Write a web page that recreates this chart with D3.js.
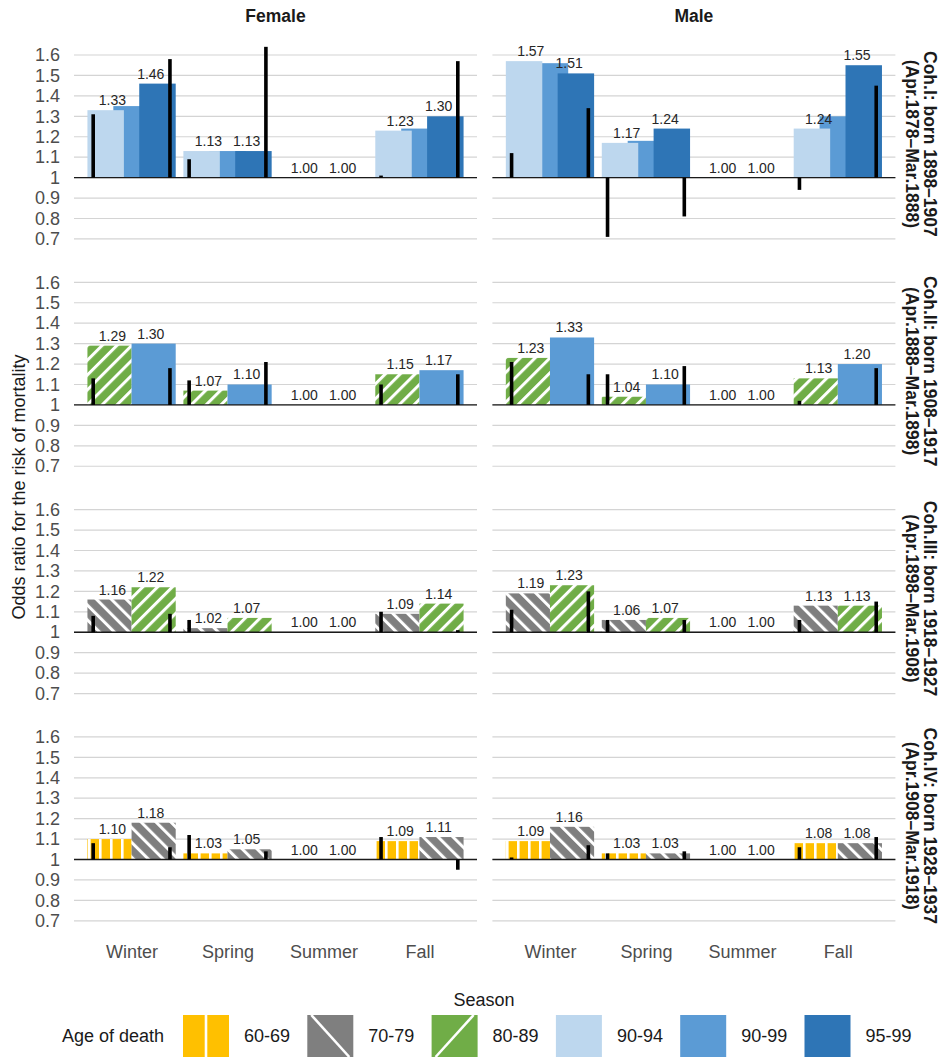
<!DOCTYPE html>
<html>
<head>
<meta charset="utf-8">
<script src="https://cdn.jsdelivr.net/npm/d3@7"></script>
<style>
  body { margin: 0; background: #fff; }
  text { font-family: "Liberation Sans", Arial, sans-serif; }
</style>
</head>
<body>
<div id="chart"></div>
<script>
// seasons, sexes, cohorts
const seasons = ["Winter", "Spring", "Summer", "Fall"];
const sexes = ["Female", "Male"];
const cohortLabels = [
    ["Coh.I: born 1898\u20131907", "(Apr.1878\u2013Mar.1888)"],
    ["Coh.II: born 1908\u20131917", "(Apr.1888\u2013Mar.1898)"],
    ["Coh.III: born 1918\u20131927", "(Apr.1898\u2013Mar.1908)"],
    ["Coh.IV: born 1928\u20131937", "(Apr.1908\u2013Mar.1918)"]
];
const ageGroups = ["60-69", "70-79", "80-89", "90-94", "90-99", "95-99"];
// which age groups appear in each cohort row
const cohortSeries = [
    ["90-94", "90-99", "95-99"],
    ["80-89", "90-99"],
    ["70-79", "80-89"],
    ["60-69", "70-79"]
];
const yTicks = [0.7, 0.8, 0.9, 1, 1.1, 1.2, 1.3, 1.4, 1.5, 1.6];

// odds ratios: one row per age group, values per season
const coh1Female = [[1.33, 1.13, 1.00, 1.23], [1.35, 1.13, 1.00, 1.24], [1.46, 1.13, 1.00, 1.30]];
const coh1Male   = [[1.57, 1.17, 1.00, 1.24], [1.56, 1.18, 1.00, 1.30], [1.51, 1.24, 1.00, 1.55]];
const coh2Female = [[1.29, 1.07, 1.00, 1.15], [1.30, 1.10, 1.00, 1.17]];
const coh2Male   = [[1.23, 1.04, 1.00, 1.13], [1.33, 1.10, 1.00, 1.20]];
const coh3Female = [[1.16, 1.02, 1.00, 1.09], [1.22, 1.07, 1.00, 1.14]];
const coh3Male   = [[1.19, 1.06, 1.00, 1.13], [1.23, 1.07, 1.00, 1.13]];
const coh4Female = [[1.10, 1.03, 1.00, 1.09], [1.18, 1.05, 1.00, 1.11]];
const coh4Male   = [[1.09, 1.03, 1.00, 1.08], [1.16, 1.03, 1.00, 1.08]];

// black interval lines, drawn from 1 to these ends: [left per season], [right per season]
const coh1FemaleErr = [[1.31, 1.09, 1.00, 1.01], [1.58, 1.64, 1.00, 1.57]];
const coh1MaleErr   = [[1.12, 0.71, 1.00, 0.94], [1.34, 0.81, 1.00, 1.45]];
const coh2FemaleErr = [[1.13, 1.12, 1.00, 1.10], [1.18, 1.21, 1.00, 1.15]];
const coh2MaleErr   = [[1.21, 1.15, 1.00, 1.02], [1.15, 1.19, 1.00, 1.18]];
const coh3FemaleErr = [[1.08, 1.06, 1.00, 1.10], [1.09, 1.00, 1.00, 1.01]];
const coh3MaleErr   = [[1.11, 1.06, 1.00, 1.06], [1.20, 1.06, 1.00, 1.15]];
const coh4FemaleErr = [[1.08, 1.12, 1.00, 1.11], [1.06, 1.04, 1.00, 0.95]];
const coh4MaleErr   = [[1.01, 1.03, 1.00, 1.06], [1.07, 1.04, 1.00, 1.11]];

const values = [[coh1Female, coh1Male], [coh2Female, coh2Male], [coh3Female, coh3Male], [coh4Female, coh4Male]];
const errs = [[coh1FemaleErr, coh1MaleErr], [coh2FemaleErr, coh2MaleErr], [coh3FemaleErr, coh3MaleErr], [coh4FemaleErr, coh4MaleErr]];

const width = 948, height = 1058;
const colLeft = [74, 492.4];
const panelW = 403;
const rowTop0 = 40.7, rowStep = 227.3, panelH = 206.4;

const colors = {
    "60-69": "#FFC000", "70-79": "#7F7F7F", "80-89": "#70AD47",
    "90-94": "#BDD7EE", "90-99": "#5B9BD5", "95-99": "#2E75B6"
};
const fills = {
    "60-69": "url(#pat6069)", "70-79": "url(#pat7079)", "80-89": "url(#pat8089)",
    "90-94": colors["90-94"], "90-99": colors["90-99"], "95-99": colors["95-99"]
};

const svg = d3.select("#chart").append("svg")
    .attr("width", width).attr("height", height);

// hatch patterns
const defs = svg.append("defs");
let p = defs.append("pattern").attr("id", "pat6069").attr("patternUnits", "userSpaceOnUse")
    .attr("width", 11).attr("height", 10);
p.append("rect").attr("width", 11).attr("height", 10).attr("fill", colors["60-69"]);
p.append("rect").attr("x", 0).attr("width", 2.6).attr("height", 10).attr("fill", "#fff");

[["pat7079", "70-79", -45], ["pat8089", "80-89", 45]].forEach(([id, key, ang]) => {
    let pt = defs.append("pattern").attr("id", id).attr("patternUnits", "userSpaceOnUse")
        .attr("width", 10.5).attr("height", 10.5)
        .attr("patternTransform", `rotate(${ang})`);
    pt.append("rect").attr("width", 10.5).attr("height", 10.5).attr("fill", colors[key]);
    pt.append("rect").attr("x", 0).attr("width", 3).attr("height", 10.5).attr("fill", "#fff");
});

const fmt = d3.format(".2f");

values.forEach((rowVals, r) => {
    const top = rowTop0 + r * rowStep;
    const y = d3.scaleLinear().domain([0.66, 1.67]).range([top + panelH, top]);
    const series = cohortSeries[r];
    const n = series.length;

    sexes.forEach((sex, c) => {
        const x = d3.scalePoint().domain(seasons)
            .range([colLeft[c], colLeft[c] + panelW]).padding(0.6);
        const s = x.step();
        const bw = n === 3 ? 0.38 * s : 0.46 * s;
        const off = i => n === 3 ? (i - 1) * 0.27 * s : (i - 0.5) * bw;

        const g = svg.append("g");

        // gridlines
        g.selectAll(".grid").data(yTicks).enter().append("line")
            .attr("x1", colLeft[c]).attr("x2", colLeft[c] + panelW)
            .attr("y1", d => y(d)).attr("y2", d => y(d))
            .attr("stroke", "#d4d4d4").attr("stroke-width", 1.2);

        // y axis labels on the left column only
        if (c === 0) {
            const ax = svg.append("g").attr("transform", `translate(${colLeft[c]},0)`)
                .call(d3.axisLeft(y).tickValues(yTicks).tickSize(0).tickPadding(14)
                    .tickFormat(d3.format(".1~f")));
            ax.select(".domain").remove();
            ax.selectAll("text").attr("font-size", 18).attr("fill", "#4d4d4d")
                .attr("font-family", "Liberation Sans, Arial, sans-serif");
        }

        // bars: middle series first, outer ones on top
        const order = d3.range(n).sort((a, b) => ((a === 0 || a === n - 1) ? 1 : 0) - ((b === 0 || b === n - 1) ? 1 : 0));
        order.forEach(i => {
            const key = series[i];
            g.selectAll(null).data(rowVals[c][i]).enter().append("rect")
                .attr("x", (d, k) => x(seasons[k]) + off(i) - bw / 2)
                .attr("width", bw)
                .attr("y", d => y(Math.max(d, 1)))
                .attr("height", d => Math.abs(y(d) - y(1)))
                .attr("fill", fills[key]);
        });

        // reference line at 1
        g.append("line")
            .attr("x1", colLeft[c]).attr("x2", colLeft[c] + panelW)
            .attr("y1", y(1)).attr("y2", y(1))
            .attr("stroke", "#1a1a1a").attr("stroke-width", 1.4);

        // black interval lines
        errs[r][c].forEach((ends, j) => {
            g.selectAll(null).data(ends).enter().append("line")
                .attr("x1", (d, k) => x(seasons[k]) + (j === 0 ? -0.4 : 0.4) * s)
                .attr("x2", (d, k) => x(seasons[k]) + (j === 0 ? -0.4 : 0.4) * s)
                .attr("y1", y(1)).attr("y2", d => y(d))
                .attr("stroke", "#000").attr("stroke-width", 3.6);
        });

        // value labels for first and last series
        [0, n - 1].forEach((i, j) => {
            g.selectAll(null).data(rowVals[c][i]).enter().append("text")
                .attr("x", (d, k) => x(seasons[k]) + (j === 0 ? -0.2 : 0.2) * s)
                .attr("y", d => y(d) - 5)
                .attr("text-anchor", "middle")
                .attr("font-size", 14).attr("fill", "#262626")
                .text(d => fmt(d));
        });

        // column titles
        if (r === 0) {
            svg.append("text").attr("x", colLeft[c] + panelW / 2).attr("y", 22)
                .attr("text-anchor", "middle").attr("font-size", 17.5).attr("font-weight", "bold")
                .attr("fill", "#1a1a1a").text(sex);
        }

        // season labels under the bottom row
        if (r === values.length - 1) {
            const xa = svg.append("g").attr("transform", `translate(0,${top + panelH})`)
                .call(d3.axisBottom(x).tickSize(0).tickPadding(16));
            xa.select(".domain").remove();
            xa.selectAll("text").attr("font-size", 18).attr("fill", "#4d4d4d")
                .attr("font-family", "Liberation Sans, Arial, sans-serif");
        }
    });

    // cohort strip text on the right
    const cy = top + panelH / 2;
    cohortLabels[r].forEach((line, li) => {
        const lx = li === 0 ? 930 : 912;
        svg.append("text")
            .attr("transform", `translate(${lx},${cy}) rotate(90)`)
            .attr("text-anchor", "middle").attr("dominant-baseline", "central")
            .attr("font-size", 17.5).attr("font-weight", "bold").attr("fill", "#1a1a1a")
            .text(line);
    });
});

// axis titles
svg.append("text").attr("transform", `translate(19,487) rotate(-90)`)
    .attr("text-anchor", "middle").attr("dominant-baseline", "central")
    .attr("font-size", 18).attr("fill", "#1a1a1a")
    .text("Odds ratio for the risk of mortality");
svg.append("text").attr("x", 484).attr("y", 1006)
    .attr("text-anchor", "middle").attr("font-size", 18).attr("fill", "#1a1a1a")
    .text("Season");

// legend
const leg = svg.append("g");
const legY = 1036, keyW = 46, keyH = 42, legStep = 124.3, legX0 = 183;
leg.append("text").attr("x", 62).attr("y", legY).attr("dominant-baseline", "central")
    .attr("font-size", 18).attr("fill", "#1a1a1a").text("Age of death");
ageGroups.forEach((a, i) => {
    const kx = legX0 + i * legStep;
    const ky = legY - keyH / 2;
    leg.append("rect").attr("x", kx).attr("y", ky).attr("width", keyW).attr("height", keyH)
        .attr("fill", colors[a]);
    if (a === "60-69") {
        leg.append("line").attr("x1", kx + keyW / 2).attr("x2", kx + keyW / 2)
            .attr("y1", ky).attr("y2", ky + keyH).attr("stroke", "#fff").attr("stroke-width", 2.6);
    } else if (a === "70-79") {
        leg.append("line").attr("x1", kx + 4).attr("x2", kx + keyW - 4)
            .attr("y1", ky).attr("y2", ky + keyH).attr("stroke", "#fff").attr("stroke-width", 2.6);
    } else if (a === "80-89") {
        leg.append("line").attr("x1", kx + 4).attr("x2", kx + keyW - 4)
            .attr("y1", ky + keyH).attr("y2", ky).attr("stroke", "#fff").attr("stroke-width", 2.6);
    }
    leg.append("text").attr("x", kx + 61).attr("y", legY).attr("dominant-baseline", "central")
        .attr("font-size", 18).attr("fill", "#1a1a1a").text(a);
});
</script>
</body>
</html>
